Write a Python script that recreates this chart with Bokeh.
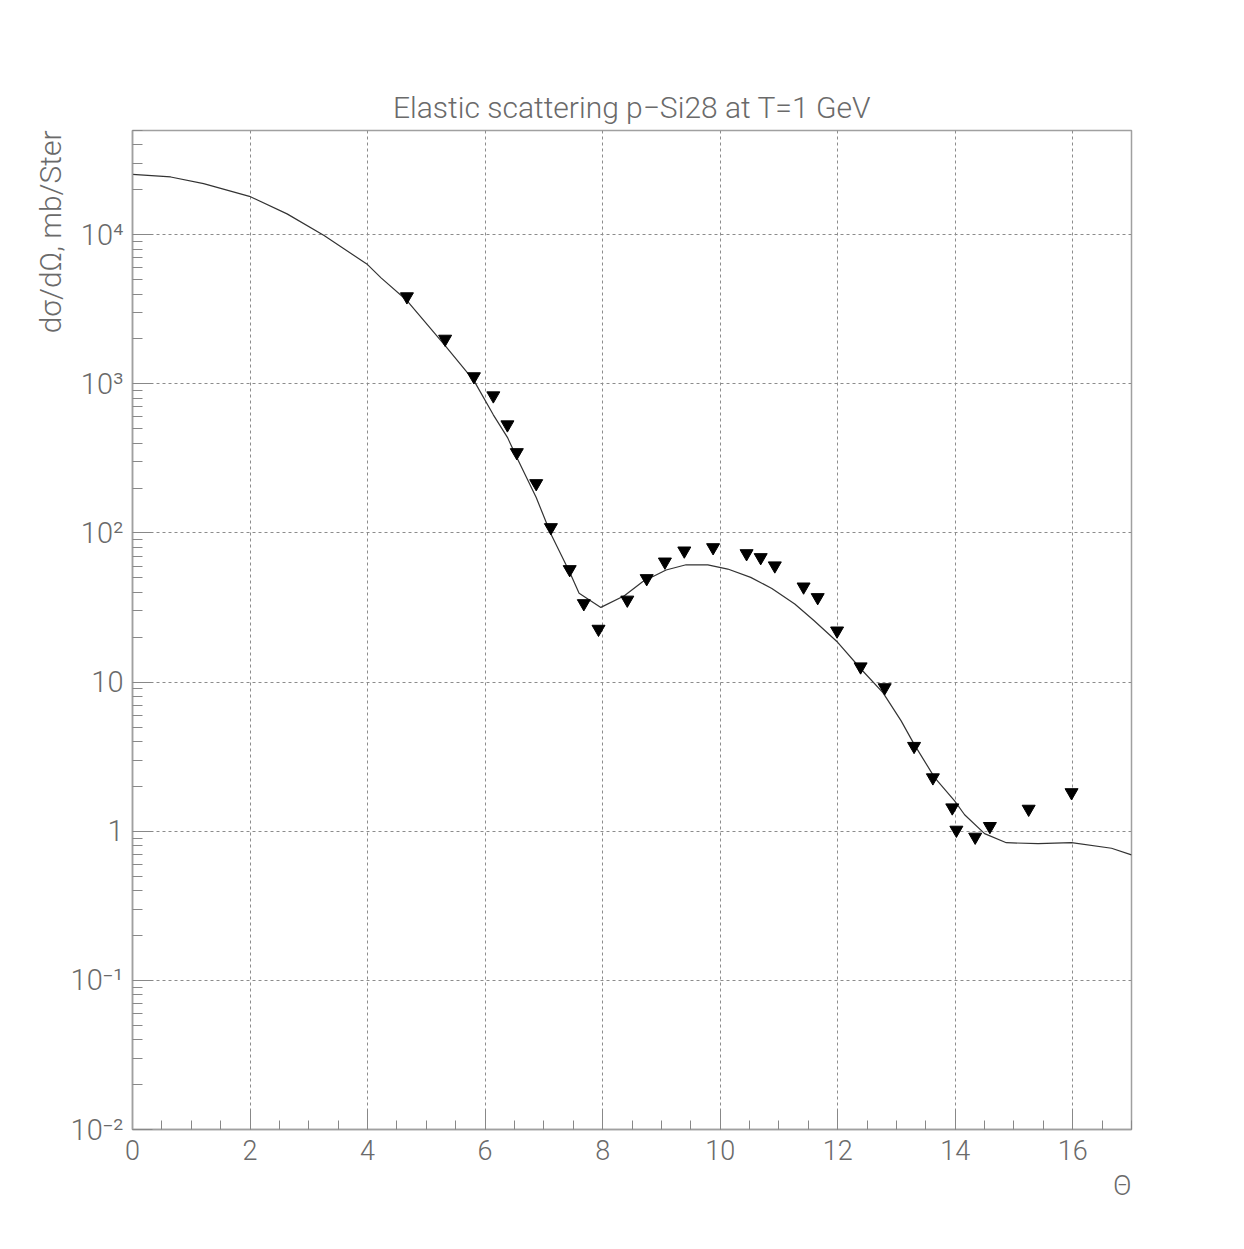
from bokeh.plotting import figure
from bokeh.models import Range1d, FixedTicker, SingleIntervalTicker, Title
from bokeh.embed import file_html
from bokeh.resources import INLINE

# ---------------- data ----------------
theta_data = [4.67, 5.32, 5.81, 6.14, 6.38, 6.54, 6.87, 7.12, 7.44, 7.68, 7.93,
              8.42, 8.75, 9.06, 9.39, 9.88, 10.45, 10.69, 10.93, 11.42, 11.66,
              11.99, 12.39, 12.80, 13.30, 13.62, 13.95, 14.02, 14.34, 14.59,
              15.25, 15.98]
sigma_data = [3850, 2000, 1120, 834, 533, 347, 215, 109, 57.0, 33.7, 22.7,
              35.6, 49.6, 64.1, 76.0, 80.0, 72.9, 68.6, 60.4, 43.6, 37.0,
              22.1, 12.7, 9.2, 3.72, 2.29, 1.44, 1.02, 0.916, 1.08,
              1.41, 1.82]

theta_curve = [0.0, 0.65, 1.21, 1.99, 2.63, 3.26, 4.0, 4.23, 4.67, 5.32, 5.81,
               6.14, 6.38, 6.54, 6.87, 7.12, 7.44, 7.60, 7.97, 8.37, 8.68,
               9.08, 9.42, 9.79, 10.13, 10.52, 10.88, 11.27, 11.60, 12.0,
               12.40, 12.77, 13.08, 13.30, 13.65, 13.99, 14.16, 14.50, 14.87,
               15.41, 15.98, 16.66, 17.0]
sigma_curve = [25400, 24400, 22000, 18100, 13800, 9890, 6310, 5140, 3620, 1807,
               1052, 620, 438, 321, 173, 98.4, 54.5, 39.4, 31.7, 37.9, 47.1,
               56.5, 61.2, 61.2, 57.3, 50.4, 42.5, 33.4, 25.8, 18.5,
               12.2, 8.5, 5.5, 3.84, 2.29, 1.60, 1.29, 0.964, 0.838,
               0.826, 0.838, 0.769, 0.694]

y_tick_values = [1e-2, 1e-1, 1, 10, 100, 1e3, 1e4]
y_tick_labels = ["10\u207b\u00b2", "10\u207b\u00b9", "1", "10",
                 "10\u00b2", "10\u00b3", "10\u2074"]

title_text = "Elastic scattering p\u2212Si28 at T=1 GeV"
x_title = "\u0398"
y_title = "d\u03c3/d\u03a9, mb/Ster"

x_min, x_max = 0, 17
y_min, y_max = 1e-2, 5e4

# ---------------- style ----------------
FONT = "Roboto Light"
TXT = "#6a6a6a"
AX = "#a0a0a0"

p = figure(width=1240, height=1245,
           x_range=Range1d(x_min, x_max), y_range=Range1d(y_min, y_max),
           y_axis_type="log", output_backend="svg", toolbar_location=None,
           min_border_left=132, min_border_right=109,
           min_border_top=130, min_border_bottom=116)
p.background_fill_color = "white"
p.border_fill_color = "white"
p.outline_line_color = AX
p.outline_line_width = 1.5

# title
p.title.text = title_text
p.title.align = "center"
p.title.text_font = FONT
p.title.text_font_size = "30px"
p.title.text_font_style = "normal"
p.title.text_color = TXT
p.title.standoff = 11

# x axis
xt = SingleIntervalTicker(interval=2, num_minor_ticks=4)
xa = p.xaxis[0]
xa.ticker = xt
xa.axis_line_color = AX
xa.axis_line_width = 1.5
xa.major_tick_in = 20
xa.major_tick_out = 0
xa.minor_tick_in = 9
xa.minor_tick_out = 0
xa.major_tick_line_color = "#888888"
xa.minor_tick_line_color = "#888888"
xa.major_label_standoff = 10
xa.major_label_text_font = FONT
xa.major_label_text_font_size = "27px"
xa.major_label_text_color = TXT

# y axis
minor = []
for e in range(-2, 5):
    for k in range(2, 10):
        v = k * 10 ** e
        if v <= y_max:
            minor.append(v)
yt = FixedTicker(ticks=y_tick_values, minor_ticks=minor)
ya = p.yaxis[0]
ya.ticker = yt
ya.axis_line_color = AX
ya.axis_line_width = 1.5
ya.major_tick_in = 20
ya.major_tick_out = 0
ya.minor_tick_in = 10
ya.minor_tick_out = 0
ya.major_tick_line_color = "#888888"
ya.minor_tick_line_color = "#888888"
ya.major_label_overrides = dict(zip(y_tick_values, y_tick_labels))
ya.major_label_standoff = 9
ya.major_label_text_font = FONT
ya.major_label_text_font_size = "29px"
ya.major_label_text_color = TXT

# axis titles, aligned to the axis ends
p.add_layout(Title(text=y_title, align="right", text_font=FONT,
                   text_font_size="30px", text_font_style="normal",
                   text_color=TXT, standoff=0), "left")
p.add_layout(Title(text=x_title, align="right", text_font=FONT,
                   text_font_size="27px", text_font_style="normal",
                   text_color=TXT, standoff=10), "below")

# grids
p.xgrid.ticker = xt
p.ygrid.ticker = FixedTicker(ticks=y_tick_values)
for g in (p.xgrid[0], p.ygrid[0]):
    g.grid_line_color = "#8c8c8c"
    g.grid_line_dash = "3 3"
    g.grid_line_width = 1

# curve and data points
p.line(theta_curve, sigma_curve, line_color="#333333", line_width=1.2)
p.scatter(theta_data, sigma_data, marker="inverted_triangle", size=13,
          fill_color="black", line_color="black")

open("out.html", "w").write(file_html(p, INLINE))
